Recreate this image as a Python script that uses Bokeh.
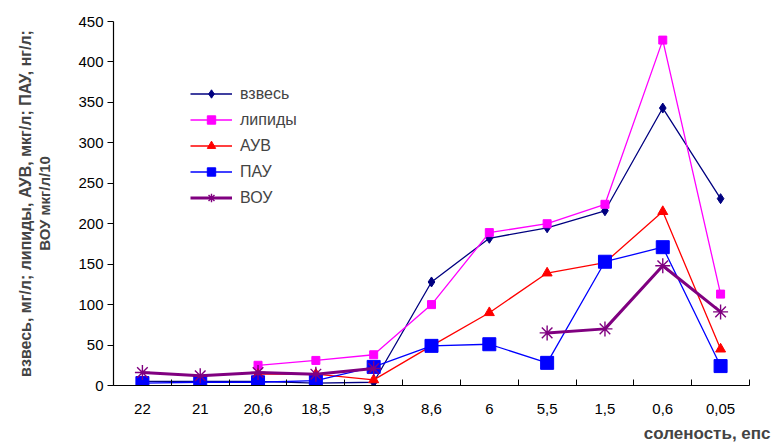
import numpy as np
from bokeh.plotting import figure
from bokeh.models import FixedTicker, Legend, LegendItem, Title, Range1d
from bokeh.embed import file_html
from bokeh.resources import INLINE

nan = np.nan
categories = ["22", "21", "20,6", "18,5", "9,3", "8,6", "6", "5,5", "1,5", "0,6", "0,05"]
vzves = [5, 5, 5, 3, 4, 128, 182, 195, 216, 343, 231]
lipidy = [nan, nan, 25, 31, 38, 100, 189, 200, 224, 427, 113]
auv = [nan, nan, 14, 14, 7, 49, 90, 139, 152, 215, 45]
pau = [3, 4, 4, 6, 23, 49, 51, 28, 153, 171, 24]
vou = [16, 12, 16, 14, 21, nan, nan, 65, 70, 148, 91]
y_ticks = [0, 50, 100, 150, 200, 250, 300, 350, 400, 450]

xs = [i + 0.5 for i in range(len(categories))]
FONT = "Liberation Sans"

p = figure(width=777, height=448, output_backend="svg", toolbar_location=None,
           x_range=Range1d(0, len(categories)), y_range=Range1d(0, 450),
           min_border_left=113, min_border_right=28, min_border_top=21, min_border_bottom=63)
p.outline_line_color = None
p.grid.grid_line_color = None

p.xaxis.ticker = FixedTicker(ticks=xs, minor_ticks=list(range(len(categories) + 1)))
p.xaxis.major_label_overrides = {x: c for x, c in zip(xs, categories)}
p.xaxis.major_tick_line_color = None
p.xaxis.minor_tick_in = 6
p.xaxis.minor_tick_out = 0
p.xaxis.minor_tick_line_color = "black"
p.xaxis.major_label_standoff = 12
p.yaxis.ticker = FixedTicker(ticks=y_ticks)
p.yaxis.minor_tick_line_color = None
p.yaxis.major_tick_in = 0
p.yaxis.major_tick_out = 6
p.yaxis.major_label_standoff = 4
for ax in (p.xaxis, p.yaxis):
    ax.axis_line_color = "black"
    ax.axis_line_width = 1.2
    ax.major_label_text_font = FONT
    ax.major_label_text_font_size = "15px"
    ax.major_label_text_color = "black"

# y-axis title, second line as the axis label, first line as an outer title
p.yaxis.axis_label = "ВОУ мкг/л/10"
p.yaxis.axis_label_text_font = FONT
p.yaxis.axis_label_text_font_style = "bold"
p.yaxis.axis_label_text_font_size = "15px"
p.yaxis.axis_label_standoff = 22
yt = Title(text="взвесь, мг/л; липиды, АУВ, мкг/л; ПАУ, нг/л;", align="center",
           text_font=FONT, text_font_style="bold", text_font_size="16px", standoff=0)
p.add_layout(yt, "left")

xt = Title(text="соленость, епс", align="right", offset=-21,
           text_font=FONT, text_font_style="bold", text_font_size="17px", standoff=10)
p.add_layout(xt, "below")

items = []
r1 = p.line(xs, vzves, line_color="#000080", line_width=1.3)
m1 = p.scatter(xs, vzves, marker="diamond", size=10, color="#000080")
items.append(LegendItem(label="взвесь", renderers=[r1, m1]))
r2 = p.line(xs, lipidy, line_color="#FF00FF", line_width=1.3)
m2 = p.scatter(xs, lipidy, marker="square", size=8, color="#FF00FF")
items.append(LegendItem(label="липиды", renderers=[r2, m2]))
r3 = p.line(xs, auv, line_color="#FF0000", line_width=1.3)
m3 = p.scatter(xs, auv, marker="triangle", size=10, color="#FF0000")
items.append(LegendItem(label="АУВ", renderers=[r3, m3]))
r4 = p.line(xs, pau, line_color="#0000FF", line_width=1.3)
m4 = p.scatter(xs, pau, marker="square", size=13, color="#0000FF")
items.append(LegendItem(label="ПАУ", renderers=[r4, m4]))
r5 = p.line(xs, vou, line_color="#800080", line_width=3)
m5 = p.scatter(xs, vou, marker="asterisk", size=15, line_color="#800080", line_width=1.4)
items.append(LegendItem(label="ВОУ", renderers=[r5, m5]))

legend = Legend(items=items, location=(77, 177), background_fill_alpha=0,
                border_line_color=None, label_text_font=FONT, label_text_font_size="16px",
                glyph_width=42, glyph_height=21, spacing=5, label_standoff=8, padding=4, margin=0)
p.add_layout(legend)

open("out.html", "w").write(file_html(p, INLINE))
